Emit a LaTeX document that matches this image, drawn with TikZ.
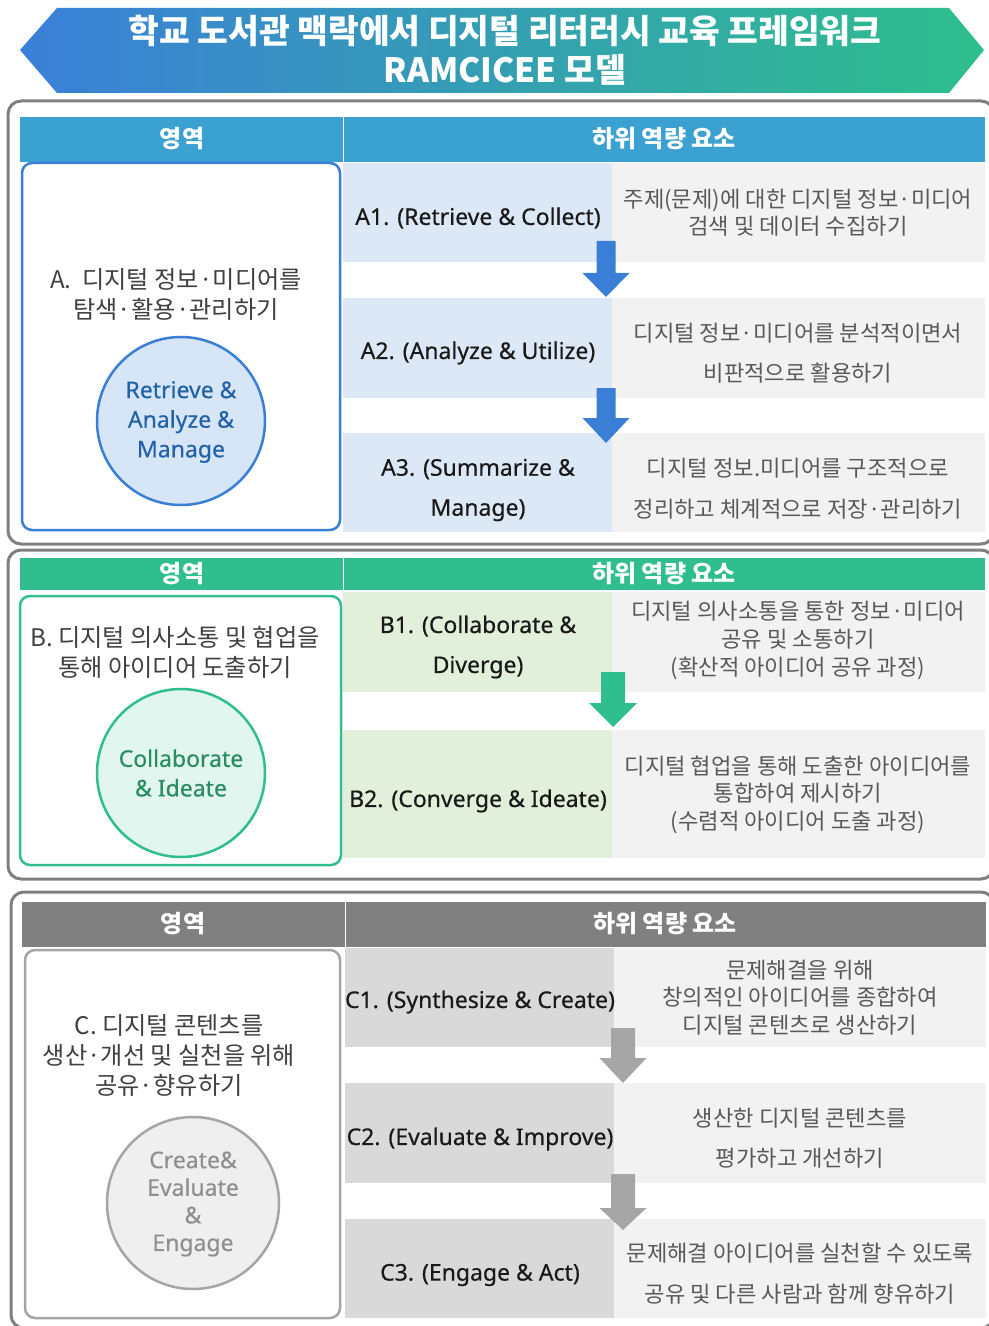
\documentclass[tikz,border=0pt]{standalone}
\usepackage{fontspec}
\setmainfont{Noto Sans CJK KR}
\newfontfamily\latinfont{Noto Sans}[FakeBold=0.45]

\definecolor{bannerblue}{HTML}{3B7FD8}
\definecolor{bannergreen}{HTML}{2EBF8C}
\definecolor{framegray}{HTML}{7F7F7F}
\definecolor{headblue}{HTML}{3BA1D0}
\definecolor{lineblue}{HTML}{3A7ED6}
\definecolor{cellblue}{HTML}{DCE8F5}
\definecolor{badgeblue}{HTML}{D6E6F7}
\definecolor{textblue}{HTML}{2462A8}
\definecolor{headgreen}{HTML}{30BE8F}
\definecolor{cellgreen}{HTML}{E2EFDA}
\definecolor{badgegreen}{HTML}{E1F6EF}
\definecolor{textgreen}{HTML}{2A8C62}
\definecolor{headgray}{HTML}{808080}
\definecolor{cellgray}{HTML}{D9D9D9}
\definecolor{arrowgray}{HTML}{A6A6A6}
\definecolor{linegray}{HTML}{A5A5A5}
\definecolor{badgegray}{HTML}{EFEFEF}
\definecolor{textgray}{HTML}{8F8F8F}
\definecolor{descbg}{HTML}{F2F2F2}
\definecolor{desctext}{HTML}{595959}
\definecolor{areatext}{HTML}{404040}

\begin{document}
\begin{tikzpicture}[x=0.5pt, y=-0.5pt]
		\tikzstyle {frame} = [draw=framegray, line width=1.5pt, rounded corners=6.5pt]
		\tikzstyle {panel} = [fill=white, line width=1.25pt, rounded corners=5pt]
		\tikzstyle {head} = [text=white, font=\fontsize{12}{14}\selectfont\bfseries]
		\tikzstyle {sub} = [text=black!90, align=center, font=\latinfont\fontsize{11.5}{20}\selectfont]
		\tikzstyle {desc} = [text=desctext, align=center, font=\fontsize{11.1}{13.8}\selectfont]
		\tikzstyle {desc wide} = [desc, font=\fontsize{11.1}{20.2}\selectfont]
		\tikzstyle {area} = [text=areatext, align=center, font=\fontsize{12.1}{15}\selectfont]
		\tikzstyle {badge} = [circle, minimum size=84pt, line width=1.25pt, align=center]
		\tikzstyle {badge text} = [align=center, font=\latinfont\fontsize{11.5}{14.8}\selectfont]

		\useasboundingbox (0,0) rectangle (989,1326);
		\clip (0,0) rectangle (989,1326);

		% title banner
		\shade[left color=bannerblue, right color=bannergreen]
			(20,50) -- (57,8) -- (949,8) -- (984,50) -- (949,93) -- (57,93) -- cycle;
		\node[text=white, align=center, font=\fontsize{16.7}{19.5}\selectfont\bfseries] (title) at (505,50)
			{학교 도서관 맥락에서 디지털 리터러시 교육 프레임워크\\RAMCICEE 모델};

		% ---- A ----
		\draw[frame] (8,101) rectangle (994,544);
		\fill[headblue] (20,117) rectangle (985,162);
		\draw[white, line width=0.5pt] (343,117) -- (343,162);
		\node[head] (ha) at (182,139) {영역};
		\node[head] (hsa) at (664,139) {하위 역량 요소};

		\fill[cellblue] (343,163) rectangle (612,262);
		\fill[descbg] (612,163) rectangle (985,262);
		\fill[cellblue] (343,298) rectangle (612,398);
		\fill[descbg] (612,298) rectangle (985,398);
		\fill[cellblue] (343,433) rectangle (612,532);
		\fill[descbg] (612,433) rectangle (985,532);

		\draw[panel, draw=lineblue] (22,163) rectangle (340,530);
		\node[area] (areaA) at (176,294.5) {A.~~디지털 정보·미디어를\\탐색·활용·관리하기};
		\node[badge, draw=lineblue, fill=badgeblue] (badgeA) at (181,421) {};
		\node[badge text, text=textblue] (badgeAtext) at (181,422) {Retrieve \&\\Analyze \&\\Manage};

		\node[sub] (a1) at (478,218) {A1. (Retrieve \& Collect)};
		\node[sub] (a2) at (478,353) {A2. (Analyze \& Utilize)};
		\node[sub] (a3) at (478,490) {A3. (Summarize \&\\Manage)};
		\node[desc] (a1d) at (798,212.5) {주제(문제)에 대한 디지털 정보·미디어\\검색 및 데이터 수집하기};
		\node[desc wide] (a2d) at (798,353) {디지털 정보·미디어를 분석적이면서\\비판적으로 활용하기};
		\node[desc wide] (a3d) at (798,488.5) {디지털 정보.미디어를 구조적으로\\정리하고 체계적으로 저장·관리하기};

		\fill[lineblue] (596.5,241) -- (615.5,241) -- (615.5,273) -- (629.5,273) -- (606,297)
			-- (582.5,273) -- (596.5,273) -- cycle;
		\fill[lineblue] (596.5,388) -- (615.5,388) -- (615.5,418) -- (629.5,418) -- (606,443)
			-- (582.5,418) -- (596.5,418) -- cycle;

		% ---- B ----
		\draw[frame] (8,550) rectangle (994,879);
		\fill[headgreen] (20,558) rectangle (985,590);
		\draw[white, line width=0.5pt] (343,558) -- (343,590);
		\node[head] (hb) at (182,574) {영역};
		\node[head] (hsb) at (664,574) {하위 역량 요소};

		\fill[cellgreen] (343,592) rectangle (612,692);
		\fill[descbg] (612,592) rectangle (985,692);
		\fill[cellgreen] (343,730) rectangle (612,858);
		\fill[descbg] (612,730) rectangle (985,858);

		\draw[panel, draw=headgreen] (20,596) rectangle (341,865);
		\node[area] (areaB) at (175,652) {B. 디지털 의사소통 및 협업을\\통해 아이디어 도출하기};
		\node[badge, draw=headgreen, fill=badgegreen] (badgeB) at (181,773) {};
		\node[badge text, text=textgreen] (badgeBtext) at (181,773) {Collaborate\\\& Ideate};

		\node[sub] (b1) at (478,647) {B1. (Collaborate \&\\Diverge)};
		\node[sub] (b2) at (478,801) {B2. (Converge \& Ideate)};
		\node[desc] (b1d) at (798,640.5) {디지털 의사소통을 통한 정보·미디어\\공유 및 소통하기\\(확산적 아이디어 공유 과정)};
		\node[desc] (b2d) at (798,794.5) {디지털 협업을 통해 도출한 아이디어를\\통합하여 제시하기\\(수렴적 아이디어 도출 과정)};

		\fill[headgreen] (601,672) -- (625,672) -- (625,703) -- (637,703) -- (613,727)
			-- (589,703) -- (601,703) -- cycle;

		% ---- C ----
		\draw[frame] (11,892) rectangle (994,1328);
		\fill[headgray] (22,902) rectangle (986,947);
		\draw[white, line width=0.5pt] (345,902) -- (345,947);
		\node[head] (hc) at (183,924) {영역};
		\node[head] (hsc) at (665,924) {하위 역량 요소};

		\fill[cellgray] (345,948) rectangle (614,1047);
		\fill[descbg] (614,948) rectangle (986,1047);
		\fill[cellgray] (345,1083) rectangle (614,1183);
		\fill[descbg] (614,1083) rectangle (986,1183);
		\fill[cellgray] (345,1219) rectangle (614,1318);
		\fill[descbg] (614,1219) rectangle (986,1318);

		\draw[panel, draw=linegray] (25,950) rectangle (340,1318);
		\node[area] (areaC) at (169,1055) {C. 디지털 콘텐츠를\\생산·개선 및 실천을 위해\\공유·향유하기};
		\node[badge, draw=linegray, fill=badgegray, minimum size=86pt] (badgeC) at (193,1203) {};
		\node[badge text, text=textgray, font=\latinfont\fontsize{11.5}{13.8}\selectfont] (badgeCtext) at (193,1204)
			{Create\&\\Evaluate\\\&\\Engage};

		\node[sub] (c1) at (480,1002) {C1. (Synthesize \& Create)};
		\node[sub] (c2) at (480,1139) {C2. (Evaluate \& Improve)};
		\node[sub] (c3) at (480,1275) {C3. (Engage \& Act)};
		\node[desc] (c1d) at (800,997.5) {문제해결을 위해\\창의적인 아이디어를 종합하여\\디지털 콘텐츠로 생산하기};
		\node[desc wide] (c2d) at (800,1138) {생산한 디지털 콘텐츠를\\평가하고 개선하기};
		\node[desc wide] (c3d) at (800,1273.5) {문제해결 아이디어를 실천할 수 있도록\\공유 및 다른 사람과 함께 향유하기};

		\fill[arrowgray] (611,1028) -- (635,1028) -- (635,1058) -- (646.5,1058) -- (623,1083)
			-- (599.5,1058) -- (611,1058) -- cycle;
		\fill[arrowgray] (611,1174) -- (635,1174) -- (635,1208) -- (646.5,1208) -- (623,1230)
			-- (599.5,1208) -- (611,1208) -- cycle;
	\end{tikzpicture}
\end{document}
